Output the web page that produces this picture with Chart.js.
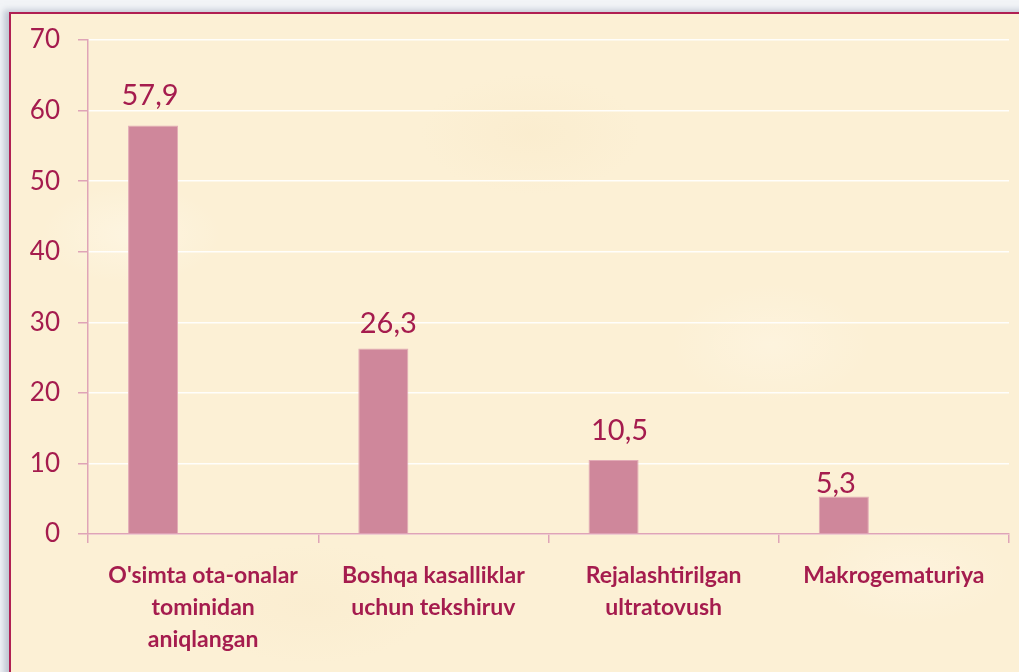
<!DOCTYPE html>
<html>
<head>
<meta charset="utf-8">
<script src="https://cdn.jsdelivr.net/npm/chart.js@4.4.0/dist/chart.umd.min.js"></script>
<style>
  html, body { margin: 0; padding: 0; background: #f2f4f7; overflow: hidden; }
  #frame {
    position: absolute; left: 9px; top: 12px; width: 1040px; height: 700px;
    border-left: 2px solid #b01f52; border-top: 2px solid #b01f52;
    box-shadow: -5px -2px 6px rgba(150, 160, 180, 0.55);
    background:
      radial-gradient(ellipse 90px 50px at 120px 220px, rgba(255,250,238,0.45), transparent),
      radial-gradient(ellipse 110px 60px at 520px 120px, rgba(248,232,198,0.4), transparent),
      radial-gradient(ellipse 100px 60px at 760px 330px, rgba(255,248,234,0.4), transparent),
      radial-gradient(ellipse 120px 60px at 300px 590px, rgba(248,232,200,0.35), transparent),
      radial-gradient(ellipse 100px 50px at 900px 560px, rgba(255,247,232,0.4), transparent),
      #fcf0d5;
  }
  canvas { position: absolute; left: 0; top: 0; }
</style>
</head>
<body>
<div id="frame"></div>
<canvas id="chart" width="1019" height="672"></canvas>
<script>
const categories = [
  ["O'simta ota-onalar", "tominidan", "aniqlangan"],
  ["Boshqa kasalliklar", "uchun tekshiruv"],
  ["Rejalashtirilgan", "ultratovush"],
  ["Makrogematuriya"]
];
const values = [57.9, 26.3, 10.5, 5.3];
const valueLabels = ["57,9", "26,3", "10,5", "5,3"];
// two empty series keep the bars in the left slot of each group
const emptySeries = [null, null, null, null];
const yTicks = [0, 10, 20, 30, 40, 50, 60, 70];

// label nudges (x, gap above bar)
const labelDx = [-3, 5, 6, -8];
const labelGap = [20, 15, 20, 4];

const crimson = "#a51c4e";
const axisPink = "#dfa4b7";
const font = "Lato, 'Noto Sans', sans-serif";

const valueLabelPlugin = {
  id: "valueLabels",
  afterDatasetsDraw(chart) {
    const { ctx } = chart;
    const meta = chart.getDatasetMeta(0);
    ctx.save();
    ctx.fillStyle = crimson;
    ctx.font = "29px " + font;
    ctx.textAlign = "center";
    ctx.textBaseline = "alphabetic";
    meta.data.forEach((bar, i) => {
      ctx.fillText(valueLabels[i], bar.x + labelDx[i], bar.y - labelGap[i]);
    });
    ctx.restore();
  }
};

new Chart(document.getElementById("chart"), {
  type: "bar",
  data: {
    labels: categories,
    datasets: [
      { data: values, backgroundColor: "#cf879b", borderColor: "#e2aab6", borderWidth: 1 },
      { data: emptySeries },
      { data: emptySeries }
    ]
  },
  options: {
    responsive: false,
    animation: false,
    events: [],
    categoryPercentage: 150 / 230,
    barPercentage: 1,
    layout: { padding: { top: 40, right: 10, left: 0, bottom: 0 } },
    plugins: { legend: { display: false }, tooltip: { enabled: false } },
    scales: {
      x: {
        afterFit(scale) { scale.height = 138; },
        border: { color: axisPink, width: 1.5 },
        grid: {
          offset: true,
          drawOnChartArea: true,
          color: c => c.index === categories.length ? "rgba(255,255,255,0.85)" : "rgba(0,0,0,0)",
          tickColor: axisPink,
          tickLength: 9,
          lineWidth: 1.5
        },
        ticks: {
          color: crimson,
          font: { family: font, size: 23, weight: "bold", lineHeight: 1.39 },
          padding: 17,
          maxRotation: 0
        }
      },
      y: {
        min: 0,
        max: 70,
        afterFit(scale) { scale.width = 88; },
        afterBuildTicks(scale) { scale.ticks = yTicks.map(v => ({ value: v })); },
        border: { color: axisPink, width: 1.5 },
        grid: {
          color: "rgba(255,255,255,0.9)",
          tickColor: axisPink,
          tickLength: 10,
          lineWidth: 1.5
        },
        ticks: {
          color: crimson,
          font: { family: font, size: 26 },
          padding: 18
        }
      }
    }
  },
  plugins: [valueLabelPlugin]
});
</script>
</body>
</html>
